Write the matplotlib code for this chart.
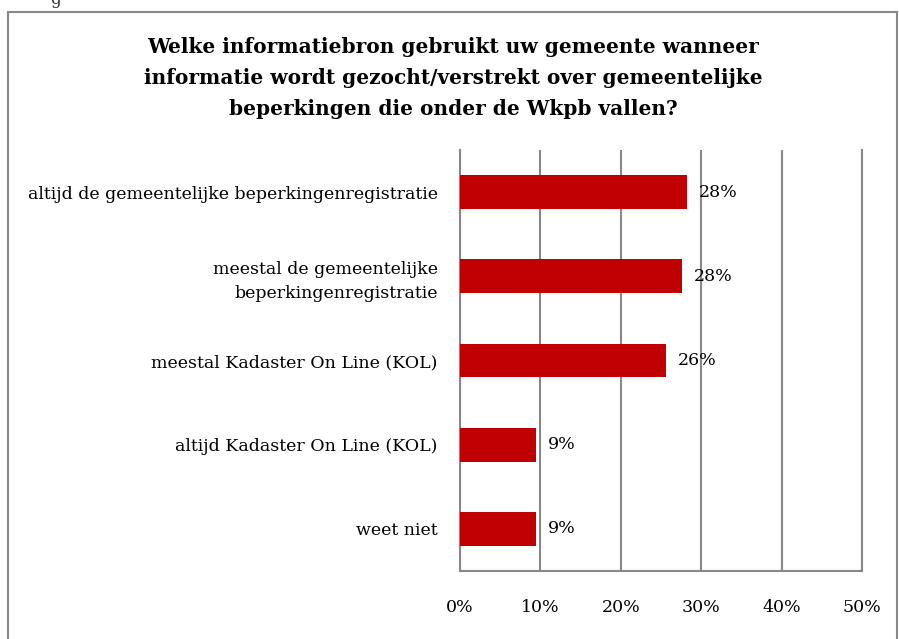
import matplotlib.pyplot as plt
from matplotlib.patches import Rectangle

categories = ['altijd de gemeentelijke beperkingenregistratie',
              'meestal de gemeentelijke\nbeperkingenregistratie',
              'meestal Kadaster On Line (KOL)',
              'altijd Kadaster On Line (KOL)',
              'weet niet']
values = [28.2, 27.6, 25.6, 9.4, 9.4]
xticks = [0, 10, 20, 30, 40, 50]
title = ('Welke informatiebron gebruikt uw gemeente wanneer\n'
         'informatie wordt gezocht/verstrekt over gemeentelijke\n'
         'beperkingen die onder de Wkpb vallen?')

plt.rcParams['font.family'] = ['DejaVu Serif']

fig = plt.figure(figsize=(8.99, 6.39), dpi=100)
ax = fig.add_axes([460/899, 1-571/639, 402/899, 421/639])

ypos = list(range(len(categories)))
ax.barh(ypos, values, height=0.4, color='#C00000', zorder=3)
for y, v in zip(ypos, values):
    ax.text(v + 1.5, y, '%.0f%%' % v, va='center', ha='left', fontsize=12.5, zorder=4)

ax.set_xlim(0, 50)
ax.set_ylim(len(categories) - 0.5, -0.5)
ax.set_yticks(ypos)
ax.set_yticklabels(categories, fontsize=12.5, linespacing=1.5)
ax.set_xticks(xticks)
ax.set_xticklabels(['%d%%' % t for t in xticks], fontsize=12.5)
ax.tick_params(axis='x', length=0, pad=20)
ax.tick_params(axis='y', length=0, pad=16)
ax.xaxis.grid(True, color='#888888', lw=1.5, zorder=0)
ax.spines['top'].set_visible(False)
for s in ['left', 'bottom', 'right']:
    ax.spines[s].set_color('#888888')
    ax.spines[s].set_linewidth(1.5)

fig.text(453/899, 1-78/639, title, ha='center', va='center', fontsize=14.5,
         fontweight='bold', linespacing=1.7)

# chart border
fig.patches.append(Rectangle((8/899, -0.1), 889/899, 1.1 - 12/639, transform=fig.transFigure,
                             fill=False, edgecolor='#888888', lw=1.5))
fig.text(50/899, 1.0, 'g', ha='left', va='center', fontsize=12, color='#333333')

fig.savefig('out.png', dpi=100)
